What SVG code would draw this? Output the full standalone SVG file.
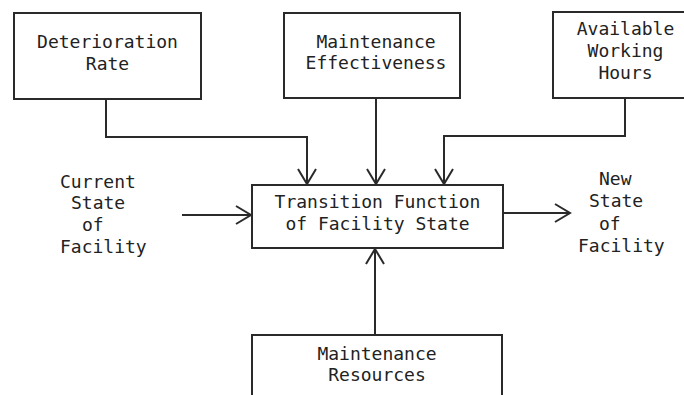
<svg xmlns="http://www.w3.org/2000/svg" width="684" height="395" viewBox="0 0 684 395">
<style>
.box{fill:#fff;stroke:#2a2a2a;stroke-width:2}
.t{font-family:"DejaVu Sans Mono","Liberation Mono",monospace;font-size:18px;fill:#222}
.c{text-anchor:middle}
.ln{fill:none;stroke:#2a2a2a;stroke-width:2}
</style>
<defs>
<marker id="ah" viewBox="-17 -11 19 22" markerWidth="19" markerHeight="22" refX="0" refY="0" orient="auto" markerUnits="userSpaceOnUse">
<path d="M-15,-9 L0,0 L-15,9" fill="none" stroke="#2a2a2a" stroke-width="2"/>
</marker>
</defs>
<rect width="684" height="395" fill="#fff"/>
<g id="connectors">
<path class="ln" d="M106 99 V137 H307 V184" marker-end="url(#ah)"/>
<path class="ln" d="M376 98 V184" marker-end="url(#ah)"/>
<path class="ln" d="M625 98 V136 H444 V184" marker-end="url(#ah)"/>
<path class="ln" d="M182 215 H251" marker-end="url(#ah)"/>
<path class="ln" d="M503 213 H570" marker-end="url(#ah)"/>
<path class="ln" d="M375 335 V249" marker-end="url(#ah)"/>
</g>
<g id="deterioration">
<rect class="box" x="14" y="13" width="187" height="86"/>
<text class="t c" x="107.5" y="48">Deterioration</text>
<text class="t c" x="107.5" y="70">Rate</text>
</g>
<g id="effectiveness">
<rect class="box" x="284" y="13" width="176" height="85"/>
<text class="t c" x="376" y="48">Maintenance</text>
<text class="t c" x="376" y="69">Effectiveness</text>
</g>
<g id="hours">
<rect class="box" x="553" y="12" width="140" height="86"/>
<text class="t c" x="625.5" y="35">Available</text>
<text class="t c" x="625.5" y="57">Working</text>
<text class="t c" x="625.5" y="79">Hours</text>
</g>
<g id="current">
<text class="t" x="60" y="188">Current</text>
<text class="t" x="71" y="209">State</text>
<text class="t" x="82" y="231">of</text>
<text class="t" x="60" y="253">Facility</text>
</g>
<g id="transition">
<rect class="box" x="252" y="185" width="251" height="63"/>
<text class="t c" x="377.5" y="208">Transition Function</text>
<text class="t c" x="377.5" y="230">of Facility State</text>
</g>
<g id="newstate">
<text class="t" x="599" y="185">New</text>
<text class="t" x="589" y="207">State</text>
<text class="t" x="599" y="230">of</text>
<text class="t" x="578" y="252">Facility</text>
</g>
<g id="resources">
<rect class="box" x="252" y="335" width="250" height="70"/>
<text class="t c" x="377" y="360">Maintenance</text>
<text class="t c" x="377" y="381">Resources</text>
</g>
</svg>
